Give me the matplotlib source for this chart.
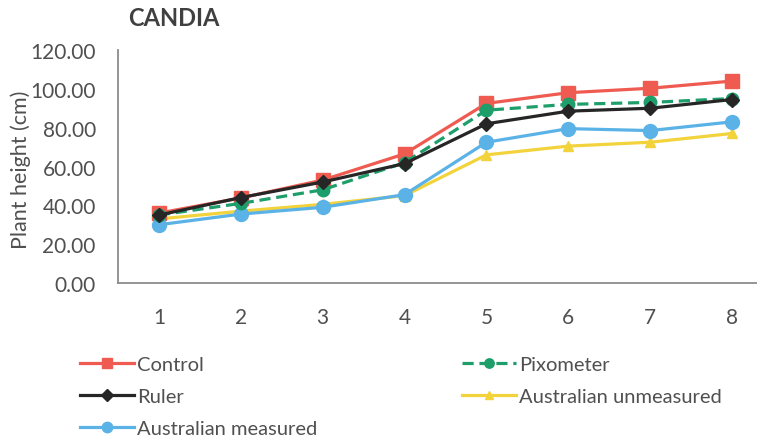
import matplotlib
matplotlib.use("Agg")
import matplotlib.pyplot as plt

plt.rcParams['font.family'] = ['Lato', 'DejaVu Sans']

weeks = ["1", "2", "3", "4", "5", "6", "7", "8"]
control = [36.0, 43.8, 53.0, 66.5, 92.5, 98.0, 100.3, 104.0]
pixometer = [35.0, 41.0, 48.0, 62.0, 89.0, 92.0, 93.0, 95.0]
ruler = [35.0, 44.0, 52.0, 61.5, 82.0, 88.5, 90.0, 94.5]
aus_unmeasured = [33.0, 37.0, 40.5, 45.0, 66.0, 70.5, 72.5, 77.0]
aus_measured = [30.0, 35.5, 39.0, 45.5, 72.5, 79.5, 78.5, 83.0]
y_ticks = [0, 20, 40, 60, 80, 100, 120]

W, H = 757, 439
fig = plt.figure(figsize=(W / 100, H / 100), dpi=100)
left, right, bottom, top = 118, 773, 284, 51
ax = fig.add_axes([left / W, 1 - bottom / H, (right - left) / W, (bottom - top) / H])

x = list(range(1, len(weeks) + 1))
lw = 2.3
red, green, black, yellow, blue = "#EF5B50", "#1E9E6A", "#262626", "#F3D33C", "#5AB2E6"
txt = "#505050"

h_control, = ax.plot(x, control, color=red, lw=lw, marker="s", ms=10, label="Control", zorder=3)
h_pix, = ax.plot(x, pixometer, color=green, lw=lw, ls=(0, (3.5, 1.8)), marker="o", ms=9,
                 label="Pixometer", zorder=4)
h_ruler, = ax.plot(x, ruler, color=black, lw=lw, marker="D", ms=7.5, label="Ruler", zorder=5)
h_aun, = ax.plot(x, aus_unmeasured, color=yellow, lw=lw, marker="^", ms=7,
                 label="Australian unmeasured", zorder=2)
h_am, = ax.plot(x, aus_measured, color=blue, lw=lw, marker="o", ms=10,
                label="Australian measured", zorder=3)

ax.set_xlim(0.5, len(weeks) + 0.5)
ax.set_ylim(0, 120)
ax.set_xticks(x)
ax.set_xticklabels(weeks)
ax.set_yticks(y_ticks)
ax.set_yticklabels([f"{v:.2f}" for v in y_ticks])
ax.tick_params(axis="both", length=0, labelsize=15, colors=txt)
ax.tick_params(axis="x", pad=17)
ax.tick_params(axis="y", pad=16)
for s in ("top", "right"):
    ax.spines[s].set_visible(False)
for s in ("left", "bottom"):
    ax.spines[s].set_color("#8C8C8C")
    ax.spines[s].set_linewidth(1.3)

fig.text(21 / W, 1 - 170 / H, "Plant height (cm)", rotation=90, ha="center", va="center",
         fontsize=15.5, color=txt)
fig.text(128 / W, 1 - 19 / H, "CANDIA", ha="left", va="center", fontsize=17,
         fontweight="bold", color="#404040")

leg_kw = dict(frameon=False, fontsize=14.5, handlelength=2.7, handletextpad=0.15,
              labelspacing=0.74, borderpad=0, borderaxespad=0, labelcolor=txt,
              markerscale=0.75)
fig.legend(handles=[h_control, h_ruler, h_am], loc="upper left",
           bbox_to_anchor=(80 / W, 1 - 357 / H), **leg_kw)
fig.legend(handles=[h_pix, h_aun], loc="upper left",
           bbox_to_anchor=(462 / W, 1 - 357 / H), **leg_kw)

fig.savefig("out.png", dpi=100, facecolor="white")
